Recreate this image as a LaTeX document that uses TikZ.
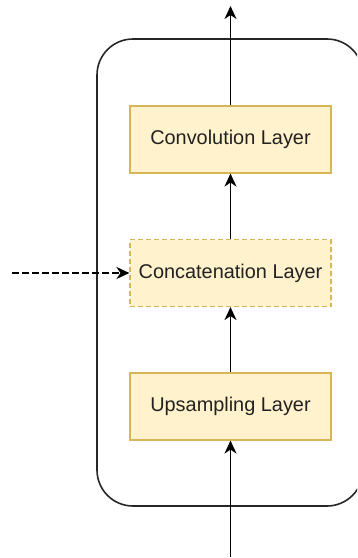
\documentclass[tikz,border=0pt]{standalone}
\usepackage{fontspec}
\setmainfont{Liberation Sans}
\usetikzlibrary{arrows.meta}
\definecolor{layerfill}{HTML}{FFF2CC}
\definecolor{layerline}{HTML}{D6B656}
\definecolor{txt}{HTML}{222222}
\begin{document}
\begin{tikzpicture}[x=1pt,y=-1pt,
  layer/.style={draw=layerline, fill=layerfill, line width=1.1pt,
    minimum width=201pt, minimum height=67pt, inner sep=0pt,
    font=\fontsize{19.9}{22}\selectfont, text=txt},
  flow/.style={line width=1.7pt, -{Stealth[length=13pt,width=12pt,inset=4pt]}},
  blockframe/.style={draw=black!85, line width=1.6pt, rounded corners=36pt}]
\useasboundingbox (0,0) rectangle (357,558);
\clip (0,0) rectangle (357,558);
% enclosing block
\draw[blockframe] (97,39) rectangle (363,506);
% layers
\node[layer] (conv) at (230.5,139.5) {Convolution Layer};
\node[layer, dash pattern=on 5pt off 3pt] (cat) at (230.5,273) {Concatenation Layer};
\node[layer] (up) at (230.5,406.5) {Upsampling Layer};
% free ends
\coordinate (out) at (230.5,6);
\coordinate (in) at (230.5,557);
\coordinate (skip) at (12,273);
% connectors
\draw[flow] (in) -- (up.south);
\draw[flow] (up.north) -- (cat.south);
\draw[flow] (cat.north) -- (conv.south);
\draw[flow] (conv.north) -- (out);
\draw[flow, dash pattern=on 6.5pt off 3.5pt] (skip) -- (cat.west);
\end{tikzpicture}
\end{document}
